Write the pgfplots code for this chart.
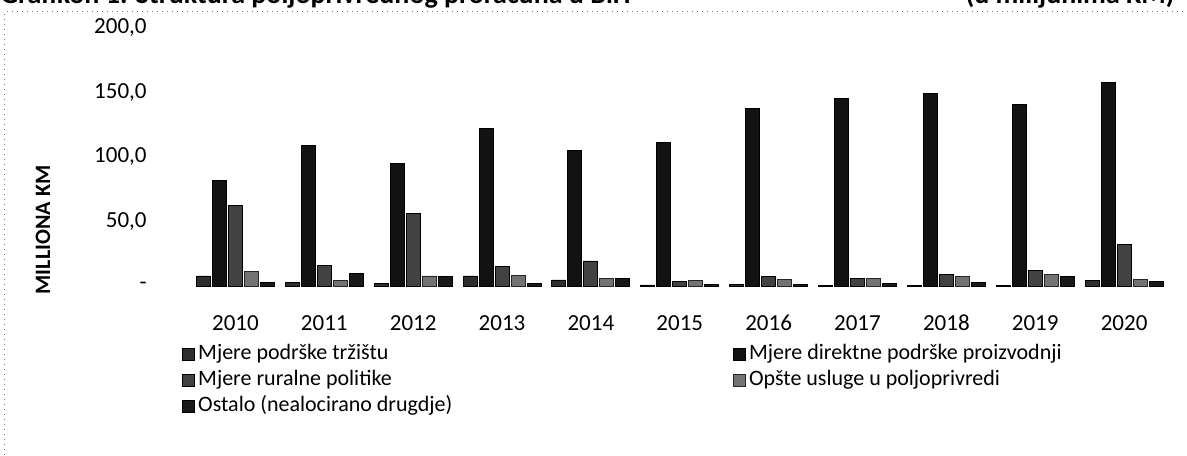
\documentclass[border=0pt]{standalone}
\usepackage{fontspec}
\setmainfont{Carlito}
\usepackage{pgfplots}
\pgfplotsset{compat=1.18}
\usetikzlibrary{calc}

\definecolor{sa}{gray}{0.18}
\definecolor{sb}{gray}{0.07}
\definecolor{sc}{gray}{0.26}
\definecolor{sd}{gray}{0.45}
\definecolor{se}{gray}{0.10}

\begin{document}
\begin{tikzpicture}
\begin{axis}[
  scale only axis, width=488.75pt, height=129pt,
  ymin=0, ymax=200, xmin=-0.5, xmax=10.5,
  ybar=1pt, bar width=7pt,
  axis line style={draw=none}, major tick length=0pt,
  xtick={0,...,10},
  xticklabels={2010,2011,2012,2013,2014,2015,2016,2017,2018,2019,2020},
  ytick={0,50,100,150,200},
  yticklabels={-\hspace{5pt},{50,0},{100,0},{150,0},{200,0}},
  xticklabel style={font=\fontsize{11.5}{13}\selectfont, anchor=base, yshift=-22pt, inner sep=0pt},
  yticklabel style={font=\fontsize{11.5}{13}\selectfont, anchor=east, xshift=-22pt, inner sep=0pt},
  legend columns=2,
  legend cell align=left,
  legend style={draw=none, fill=none, inner sep=0pt,
    at={(-0.0092,-0.221)}, anchor=north west,
    font=\fontsize{11}{13}\selectfont,
    nodes={inner xsep=1.5pt, inner ysep=0pt, text height=8pt, text depth=2.5pt},
    /tikz/row sep=2.6pt},
  legend image code/.code={\draw[#1, line width=0.4pt] (0pt,-3pt) rectangle (6pt,3pt);},
  clip=false,
]
\addplot[fill=sa, draw=black] coordinates {(0,7.8) (1,3.0) (2,2.0) (3,7.8) (4,4.7) (5,0.8) (6,1.0) (7,0.3) (8,0.5) (9,0.5) (10,4.4)};
\addlegendentry{\makebox[266pt][l]{Mjere podrške tržištu}}
\addplot[fill=sb, draw=black] coordinates {(0,82) (1,109) (2,95) (3,122) (4,105) (5,111) (6,137.5) (7,145.5) (8,149) (9,141) (10,158)};
\addlegendentry{Mjere direktne podrške proizvodnji}
\addplot[fill=sc, draw=black] coordinates {(0,62.5) (1,16) (2,56) (3,15.5) (4,19.4) (5,3.4) (6,7.2) (7,6.0) (8,9.0) (9,11.9) (10,32)};
\addlegendentry{\makebox[266pt][l]{Mjere ruralne politike}}
\addplot[fill=sd, draw=black!85] coordinates {(0,11.4) (1,4.0) (2,7.8) (3,8.3) (4,5.7) (5,4.4) (6,5.2) (7,5.7) (8,7.2) (9,9.0) (10,5.2)};
\addlegendentry{Opšte usluge u poljoprivredi}
\addplot[fill=se, draw=black] coordinates {(0,2.6) (1,9.8) (2,7.2) (3,2.0) (4,5.7) (5,1.0) (6,1.0) (7,2.0) (8,3.1) (9,7.2) (10,3.4)};
\addlegendentry{\makebox[266pt][l]{Ostalo (nealocirano drugdje)}}
\end{axis}
\node[font=\bfseries\fontsize{11}{13}\selectfont, rotate=90] at (-74pt,28pt) {MILLIONA KM};
\node[font=\bfseries\fontsize{14}{16}\selectfont, anchor=base west, inner sep=0pt] at (-95.5pt,141pt) {Grafikon 1. Struktura poljoprivrednog proračuna u BiH};
\node[font=\bfseries\fontsize{14}{16}\selectfont, anchor=base east, inner sep=0pt] at (492pt,141pt) {(u milijunima KM)};
\draw[black!55, dotted, line width=0.5pt] (-93pt,-84.5pt) -- (-93pt,137pt) -- (498pt,137pt);
\pgfresetboundingbox
\useasboundingbox (-95.5pt,-84.5pt) rectangle (498pt,143pt);
\end{tikzpicture}
\end{document}
